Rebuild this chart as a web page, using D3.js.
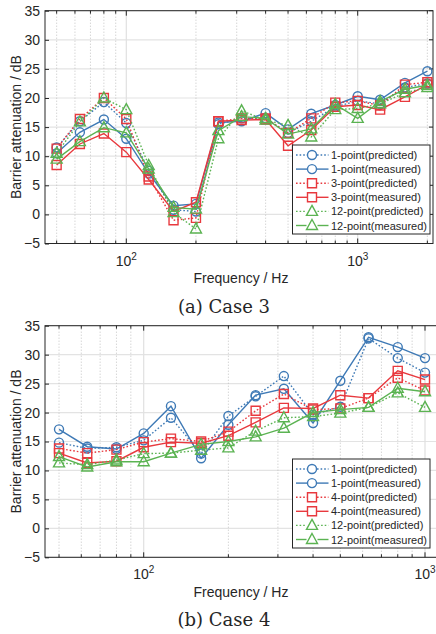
<!DOCTYPE html>
<html>
<head>
<meta charset="utf-8">
<script src="https://cdn.jsdelivr.net/npm/d3@7"></script>
<style>
  body { margin: 0; background: #fff; }
  svg { display: block; }
  text { font-family: "Liberation Sans", Arial, sans-serif; fill: #262626; }
</style>
</head>
<body>
<div id="chart"></div>
<script>
// ---- data ----
const freqCase3 = [50, 63, 80, 100, 125, 160, 200, 250, 315, 400, 500, 630, 800, 1000, 1250, 1600, 2000];
const case3OnePred = [11.5, 16.0, 19.3, 15.7, 7.5, 0.8, 0.5, 15.5, 16.5, 16.5, 14.0, 16.0, 18.5, 19.5, 19.0, 21.8, 22.5];
const case3OneMeas = [10.5, 14.1, 16.3, 13.0, 7.0, 1.5, 1.8, 15.8, 16.0, 17.4, 14.6, 17.3, 18.8, 20.3, 19.7, 22.6, 24.6];
const case3ThreePred = [11.3, 16.4, 20.0, 16.4, 6.5, -1.0, -0.6, 16.0, 16.5, 16.5, 14.0, 16.5, 19.2, 19.5, 18.7, 22.3, 22.7];
const case3ThreeMeas = [8.5, 12.1, 13.9, 10.7, 6.0, 0.5, 2.1, 16.0, 16.2, 16.3, 11.8, 14.5, 18.5, 18.8, 18.0, 20.2, 22.3];
const case3TwelvePred = [10.5, 15.9, 20.0, 18.0, 8.4, 0.3, -2.5, 13.0, 17.8, 16.2, 15.3, 13.3, 18.0, 18.2, 19.0, 20.9, 21.8];
const case3TwelveMeas = [9.5, 12.5, 14.9, 14.0, 7.8, 1.2, 0.9, 14.4, 16.8, 16.5, 13.8, 14.7, 18.9, 16.5, 19.4, 21.5, 22.2];

const freqCase4 = [50, 63, 80, 100, 125, 160, 200, 250, 315, 400, 500, 630, 800, 1000];
const case4OnePred = [14.8, 13.8, 14.0, 15.2, 19.1, 12.9, 19.4, 22.8, 26.3, 19.6, 21.0, 32.8, 29.4, 26.9];
const case4OneMeas = [17.1, 14.1, 13.7, 16.4, 21.1, 12.1, 17.9, 23.0, 24.1, 18.2, 25.5, 33.0, 31.3, 29.4];
const case4FourPred = [13.8, 13.0, 13.6, 14.9, 15.5, 15.0, 16.7, 20.3, 23.2, 20.5, 20.7, 22.5, 26.0, 23.8];
const case4FourMeas = [13.0, 11.3, 11.6, 14.0, 14.9, 14.7, 16.0, 18.3, 20.8, 20.7, 23.0, 22.5, 27.2, 25.7];
const case4TwelvePred = [11.3, 11.0, 11.8, 12.9, 13.0, 13.5, 13.9, 16.8, 19.1, 19.3, 19.9, 20.9, 23.4, 20.9];
const case4TwelveMeas = [12.4, 10.6, 11.5, 11.5, 13.0, 14.5, 15.0, 15.8, 17.3, 20.0, 20.5, 20.9, 24.2, 23.6];

const yTicks = [-5, 0, 5, 10, 15, 20, 25, 30, 35];
const legendCase3 = ["1-point(predicted)", "1-point(measured)", "3-point(predicted)", "3-point(measured)", "12-point(predicted)", "12-point(measured)"];
const legendCase4 = ["1-point(predicted)", "1-point(measured)", "4-point(predicted)", "4-point(measured)", "12-point(predicted)", "12-point(measured)"];

const colors = { blue: "#3f7ab6", red: "#e8393e", green: "#5bb352" };

var svg = d3.select("#chart").append("svg")
  .attr("width", 436)
  .attr("height", 634);

function drawPanel(opt) {
  var left = 45, right = opt.right, top = opt.top, bottom = opt.bottom;

  var xScale = d3.scaleLog().domain(opt.xDomain).range([left, right]);
  var yScale = d3.scaleLinear().domain([-5, 35]).range([bottom, top]);

  var g = svg.append("g");
  var clipId = "clip" + opt.id;
  g.append("clipPath").attr("id", clipId)
    .append("rect")
    .attr("x", left).attr("y", top)
    .attr("width", right - left).attr("height", bottom - top);

  // grid
  var grid = g.append("g");
  grid.selectAll(".hgrid")
    .data(yTicks)
    .enter().append("line")
    .attr("x1", left).attr("x2", right)
    .attr("y1", (d) => yScale(d)).attr("y2", (d) => yScale(d))
    .attr("stroke", "#e3e3e3").attr("stroke-width", 1.2);

  var allTicks = [];
  [10, 100, 1000].forEach((dec) => {
    for (var k = 1; k <= 9; k++) allTicks.push(dec * k);
  });
  allTicks = allTicks.filter((f) => f >= opt.xDomain[0] && f <= opt.xDomain[1]);
  var majors = allTicks.filter((f) => Math.abs(Math.log10(f) - Math.round(Math.log10(f))) < 1e-9);
  var minors = allTicks.filter((f) => majors.indexOf(f) === -1);

  grid.selectAll(".vminor")
    .data(minors)
    .enter().append("line")
    .attr("x1", (d) => xScale(d)).attr("x2", (d) => xScale(d))
    .attr("y1", top).attr("y2", bottom)
    .attr("stroke", "#bdbdbd").attr("stroke-width", 0.9)
    .attr("stroke-dasharray", "1,2");

  grid.selectAll(".vmajor")
    .data(majors)
    .enter().append("line")
    .attr("x1", (d) => xScale(d)).attr("x2", (d) => xScale(d))
    .attr("y1", top).attr("y2", bottom)
    .attr("stroke", "#e0e0e0").attr("stroke-width", 1.2);

  // y axis, ticks pointing inward
  g.append("g")
    .attr("transform", "translate(" + left + ",0)")
    .call(d3.axisLeft(yScale).tickValues(yTicks).tickSize(-4).tickPadding(5).tickFormat(d3.format("d")))
    .call((a) => a.select(".domain").remove())
    .selectAll("text")
    .style("font-size", "14px")
    .style("font-family", "'Liberation Sans', Arial, sans-serif")
    .attr("fill", "#262626");
  g.selectAll(".tick line").attr("stroke", "#262626");

  g.append("g")
    .selectAll("line")
    .data(yTicks)
    .enter().append("line")
    .attr("x1", right).attr("x2", right - 4)
    .attr("y1", (d) => yScale(d)).attr("y2", (d) => yScale(d))
    .attr("stroke", "#262626");

  // x ticks on bottom and top
  var xt = g.append("g");
  [[bottom, -1], [top, 1]].forEach(([yy, dir]) => {
    xt.selectAll(null)
      .data(allTicks)
      .enter().append("line")
      .attr("x1", (d) => xScale(d)).attr("x2", (d) => xScale(d))
      .attr("y1", yy)
      .attr("y2", (d) => yy + dir * (majors.indexOf(d) !== -1 ? 5 : 3))
      .attr("stroke", "#262626");
  });

  // 10^n tick labels
  majors.forEach((f) => {
    var t = xt.append("text")
      .attr("x", xScale(f))
      .attr("y", bottom + 22)
      .attr("text-anchor", "middle")
      .style("font-size", "14px");
    t.append("tspan").text("10");
    t.append("tspan")
      .attr("dy", -6)
      .style("font-size", "10px")
      .text(Math.round(Math.log10(f)));
  });

  // frame
  g.append("rect")
    .attr("x", left).attr("y", top)
    .attr("width", right - left).attr("height", bottom - top)
    .attr("fill", "none")
    .attr("stroke", "#262626").attr("stroke-width", 1);

  // series
  var plot = g.append("g").attr("clip-path", "url(#" + clipId + ")");
  opt.series.forEach((s) => {
    var pts = opt.freq.map((f, i) => [xScale(f), yScale(s.values[i])]);
    plot.append("path")
      .attr("d", d3.line()(pts))
      .attr("fill", "none")
      .attr("stroke", s.color)
      .attr("stroke-width", 1.4)
      .attr("stroke-dasharray", s.dotted ? "1.6,2" : null);
    plot.selectAll(null)
      .data(pts)
      .enter().append("path")
      .attr("transform", (p) => "translate(" + p[0] + "," + p[1] + ")")
      .attr("d", markerPath(s.marker))
      .attr("fill", "none")
      .attr("stroke", s.color)
      .attr("stroke-width", 1.4);
  });

  // legend
  var lg = g.append("g");
  lg.append("rect")
    .attr("x", 292.5).attr("y", opt.legendTop)
    .attr("width", 137.5).attr("height", 89)
    .attr("fill", "#fff")
    .attr("stroke", "#262626").attr("stroke-width", 1);
  opt.series.forEach((s, i) => {
    var yy = opt.legendTop + 10 + i * 14.1;
    var r = s.marker === "triangle" ? 5.5 : 5;
    [[296, 312 - r], [312 + r, 328.5]].forEach(([a, b]) => {
      lg.append("line")
        .attr("x1", a).attr("x2", b)
        .attr("y1", yy).attr("y2", yy)
        .attr("stroke", s.color).attr("stroke-width", 1.4)
        .attr("stroke-dasharray", s.dotted ? "1.6,2" : null);
    });
    lg.append("path")
      .attr("transform", "translate(312," + yy + ")")
      .attr("d", markerPath(s.marker))
      .attr("fill", "#fff")
      .attr("stroke", s.color).attr("stroke-width", 1.4);
    lg.append("text")
      .attr("x", 331)
      .attr("y", yy + 4)
      .style("font-size", "11px")
      .text(s.label);
  });

  // axis labels and caption
  g.append("text")
    .attr("transform", "translate(21," + (top + bottom) / 2 + ") rotate(-90)")
    .attr("text-anchor", "middle")
    .style("font-size", "14px")
    .text("Barrier attenuation / dB");
  g.append("text")
    .attr("x", 241).attr("y", opt.xLabelY)
    .attr("text-anchor", "middle")
    .style("font-size", "14px")
    .text("Frequency / Hz");
  g.append("text")
    .attr("x", 224).attr("y", opt.captionY)
    .attr("text-anchor", "middle")
    .style("font-family", "'DejaVu Serif', serif")
    .style("font-size", "18px")
    .text(opt.caption);
}

function markerPath(kind) {
  if (kind === "circle") return d3.symbol(d3.symbolCircle, 64)();
  if (kind === "square") return "M-4.5,-4.5H4.5V4.5H-4.5Z";
  return "M0,-6L5.5,4L-5.5,4Z";
}

function makeSeries(labels, vals) {
  var cols = [colors.blue, colors.blue, colors.red, colors.red, colors.green, colors.green];
  var marks = ["circle", "circle", "square", "square", "triangle", "triangle"];
  return vals.map((v, i) => ({
    label: labels[i], values: v, color: cols[i], marker: marks[i], dotted: i % 2 === 0,
  }));
}

drawPanel({
  id: "a",
  top: 10.7, bottom: 243.5, right: 433,
  xDomain: [Math.pow(10, 2 - 81.3 / 231.4), Math.pow(10, 3 + 75.3 / 231.4)],
  freq: freqCase3,
  series: makeSeries(legendCase3, [case3OnePred, case3OneMeas, case3ThreePred, case3ThreeMeas, case3TwelvePred, case3TwelveMeas]),
  legendTop: 145,
  xLabelY: 283,
  captionY: 313,
  caption: "(a) Case 3",
});

drawPanel({
  id: "b",
  top: 325.7, bottom: 557.3, right: 441,
  xDomain: [Math.pow(10, 2 - 98.7 / 281.3), Math.pow(10, 3 + 16 / 281.3)],
  freq: freqCase4,
  series: makeSeries(legendCase4, [case4OnePred, case4OneMeas, case4FourPred, case4FourMeas, case4TwelvePred, case4TwelveMeas]),
  legendTop: 459,
  xLabelY: 597,
  captionY: 626,
  caption: "(b) Case 4",
});
</script>
</body>
</html>
